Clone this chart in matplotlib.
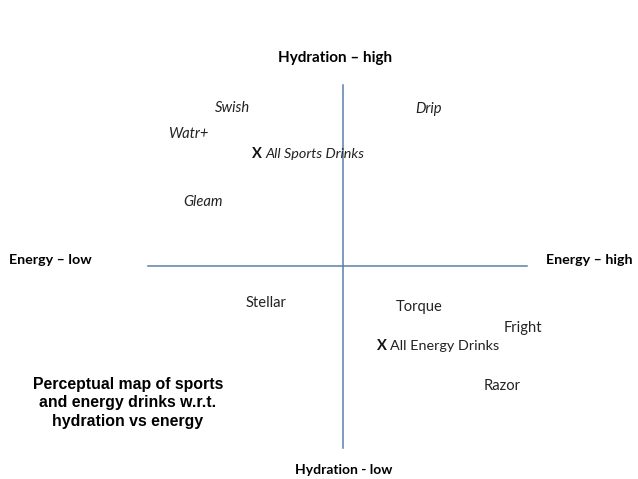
import matplotlib
matplotlib.use("Agg")
import matplotlib.pyplot as plt

# positions are offsets from the centre of the map (energy right, hydration up)
brands = ["Swish", "Drip", "Watr+", "Gleam", "Stellar", "Torque", "Fright", "Razor"]
energy = [-111, 86, -155, -140, -77, 76, 180, 159]
hydration = [158, 157, 132, 64, -37, -41, -62, -120]
brand_italic = [True, True, True, True, False, False, False, False]

groups = ["All Sports Drinks", "All Energy Drinks"]
group_energy = [-81, 44]
group_hydration = [112, -80]
group_italic = [True, False]

axis_energy = [-195, 184]
axis_hydration = [-182, 181]

title = "Perceptual map of sports\nand energy drinks w.r.t.\nhydration vs energy"

fig = plt.figure(figsize=(6.38, 4.79), dpi=100)
ax = fig.add_axes([0, 0, 1, 1])
ax.set_xlim(-343, 295)
ax.set_ylim(-213, 266)
ax.axis("off")

line_col = "#5b7fa8"
ax.plot(axis_energy, [0, 0], color=line_col, lw=1.1)
ax.plot([0, 0], axis_hydration, color=line_col, lw=1.1)

fnt = "Lato"
ax.text(-8, 208, "Hydration – high", ha="center", va="center", fontsize=11,
        fontweight="bold", family=fnt)
ax.text(1, -204, "Hydration - low", ha="center", va="center", fontsize=10,
        fontweight="bold", family=fnt)
ax.text(-334, 6, "Energy – low", ha="left", va="center", fontsize=10.3,
        fontweight="bold", family=fnt)
ax.text(289, 6, "Energy – high", ha="right", va="center", fontsize=10.3,
        fontweight="bold", family=fnt)

for b, e, h, it in zip(brands, energy, hydration, brand_italic):
    ax.text(e, h, b, ha="center", va="center", fontsize=10.6, family=fnt,
            style="italic" if it else "normal", color="#222222")

for g, e, h, it in zip(groups, group_energy, group_hydration, group_italic):
    ax.text(e, h, "X", ha="right", va="center", fontsize=10.6, family=fnt,
            fontweight="bold", color="#111111")
    ax.text(e + 3, h, g, ha="left", va="center", fontsize=10.4, family=fnt,
            style="italic" if it else "normal", color="#222222")

ax.text(-215, -137, title, ha="center", va="center", fontsize=11.4,
        fontweight="bold", family="Liberation Sans", linespacing=1.26)

fig.savefig("out.png", dpi=100)
